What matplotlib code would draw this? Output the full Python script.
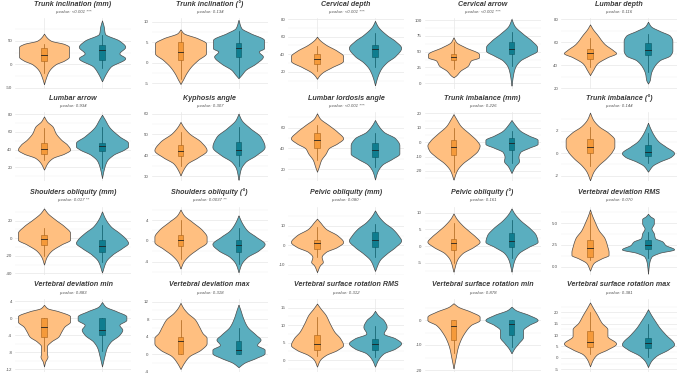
import matplotlib
matplotlib.use("Agg")
import matplotlib.pyplot as plt
import numpy as np

plt.rcParams["font.family"] = ["Liberation Sans", "DejaVu Sans"]

# Panel titles and p-values
titles = [
    "Trunk inclination (mm)", "Trunk inclination (°)", "Cervical depth", "Cervical arrow", "Lumbar depth",
    "Lumbar arrow", "Kyphosis angle", "Lumbar lordosis angle", "Trunk imbalance (mm)", "Trunk imbalance (°)",
    "Shoulders obliquity (mm)", "Shoulders obliquity (°)", "Pelvic obliquity (mm)", "Pelvic obliquity (°)", "Vertebral deviation RMS",
    "Vertebral deviation min", "Vertebral deviation max", "Vertebral surface rotation RMS", "Vertebral surface rotation min", "Vertebral surface rotation max",
]
pvalues = [
    "p-value: <0.001 ***", "p-value: 0.134", "p-value: <0.001 ***", "p-value: <0.001 ***", "p-value: 0.116",
    "p-value: 0.934", "p-value: 0.307", "p-value: <0.001 ***", "p-value: 0.226", "p-value: 0.144",
    "p-value: 0.017 **", "p-value: 0.0037 **", "p-value: 0.080 ·", "p-value: 0.161", "p-value: 0.070",
    "p-value: 0.883", "p-value: 0.318", "p-value: 0.312", "p-value: 0.878", "p-value: 0.381",
]
yticks = [
    [-50, 0, 50], [-5, 0, 5, 10], [20, 40, 60, 80], [0, 25, 50, 75, 100], [20, 40, 60, 80],
    [20, 40, 60, 80], [30, 40, 50, 60], [20, 40, 60], [-20, -10, 0, 10, 20], [-2, 0, 2],
    [-40, -20, 0, 20], [-4, 0, 4], [-10, 0, 10], [-5, 0, 5, 10], [0.0, 2.5, 5.0],
    [-12, -8, -4, 0, 4], [-4, 0, 4, 8, 12], [0, 5, 10, 15], [-20, -10, 0], [-5, 0, 5, 10, 15, 20],
]
ylims = [
    (-53, 97.5), (-6.5, 10.8), (0, 81), (-9.5, 102.7), (19, 81),
    (4.5, 82.6), (27.6, 60.8), (8.4, 75.2), (-27, 21), (-2.47, 3.66),
    (-41.9, 36.2), (-6.55, 6.6), (-15.1, 19.8), (-8.7, 11.9), (-0.96, 6.94),
    (-12.6, 4.47), (-4.1, 12.6), (-3.44, 17.5), (-20.8, 8.4), (-6.2, 25.8),
]

# Violin outlines: (value, half-width) knots
group1_shape = [
    [(65, 0), (58, 0.04), (50, 0.12), (43, 0.35), (37, 0.43), (16, 0.43), (8, 0.35), (0, 0.2), (-15, 0.08), (-30, 0.03), (-42, 0)],
    [(8.1, 0), (7.2, 0.05), (5.9, 0.3), (4.7, 0.44), (2.3, 0.44), (0.65, 0.3), (-1, 0.18), (-2.6, 0.1), (-4.2, 0.04), (-5.2, 0)],
    [(60, 0), (56.7, 0.04), (51, 0.15), (43.7, 0.35), (38, 0.45), (32.6, 0.45), (25, 0.25), (19.5, 0.1), (15.8, 0.04), (12, 0)],
    [(72.6, 0), (64.7, 0.05), (57, 0.2), (46, 0.44), (41, 0.44), (36, 0.3), (28, 0.25), (20, 0.12), (12, 0.04), (9.5, 0)],
    [(75.7, 0), (71.4, 0.05), (67, 0.12), (58.6, 0.25), (53, 0.4), (50.6, 0.45), (47, 0.3), (41.4, 0.12), (35.7, 0.05), (31.4, 0)],
    [(77.6, 0), (72, 0.05), (66, 0.15), (58.8, 0.2), (51, 0.3), (45.6, 0.4), (40, 0.45), (35.5, 0.35), (30.6, 0.15), (25, 0.06), (17.4, 0)],
    [(56, 0), (53.7, 0.05), (50.5, 0.15), (46.5, 0.35), (42.4, 0.45), (39, 0.3), (36, 0.12), (32.7, 0.04), (30.3, 0)],
    [(73.9, 0), (69, 0.05), (62.6, 0.2), (56, 0.35), (49.7, 0.45), (44.8, 0.35), (40, 0.2), (35, 0.15), (28.7, 0.07), (22, 0.03), (17.4, 0)],
    [(19.5, 0), (16, 0.05), (11.5, 0.12), (5.7, 0.28), (1.1, 0.4), (-2.3, 0.45), (-5.7, 0.42), (-10.3, 0.3), (-15, 0.15), (-19.5, 0.06), (-26, 0)],
    [(3.6, 0), (3, 0.05), (2.4, 0.15), (1.8, 0.32), (1.2, 0.42), (0.6, 0.42), (0.15, 0.38), (-0.45, 0.28), (-1.05, 0.15), (-1.64, 0.06), (-2.4, 0)],
    [(34, 0), (28.7, 0.06), (21, 0.2), (13.6, 0.35), (6, 0.45), (-1.5, 0.45), (-7, 0.3), (-14.7, 0.12), (-22, 0.04), (-30, 0)],
    [(6, 0), (4.9, 0.06), (3.65, 0.2), (2, 0.38), (0.8, 0.45), (-0.2, 0.45), (-1.5, 0.3), (-2.75, 0.15), (-4, 0.05), (-5.3, 0)],
    [(13.6, 0), (11.9, 0.05), (8.5, 0.15), (5.1, 0.35), (1.7, 0.45), (-0.8, 0.35), (-3.4, 0.15), (-5.9, 0.08), (-8.5, 0.1), (-10.2, 0.05), (-13.6, 0)],
    [(9.8, 0), (8.3, 0.05), (6.3, 0.15), (4.3, 0.28), (2.8, 0.38), (1.3, 0.45), (-0.2, 0.35), (-2.2, 0.15), (-4.2, 0.06), (-7.7, 0)],
    [(6.6, 0), (6, 0.03), (5.2, 0.08), (4.2, 0.15), (3.3, 0.25), (2.3, 0.3), (1.7, 0.32), (1.35, 0.32), (0.96, 0.2), (0.4, 0.06), (-0.46, 0)],
    [(3.1, 0), (2.3, 0.06), (1.6, 0.25), (0.4, 0.45), (-0.8, 0.45), (-2, 0.35), (-3.1, 0.3), (-4.3, 0.25), (-5.5, 0.12), (-6.6, 0.05), (-8.2, 0.05), (-9, 0.06), (-10.2, 0.02), (-11.3, 0)],
    [(11.7, 0), (10.5, 0.05), (9.4, 0.12), (7.9, 0.25), (6.3, 0.32), (4.8, 0.38), (3.7, 0.45), (2.5, 0.45), (1, 0.35), (-0.5, 0.15), (-2, 0.06), (-3.4, 0)],
    [(16.2, 0), (14.8, 0.06), (12.9, 0.15), (10.5, 0.22), (8.1, 0.3), (6.2, 0.4), (4.3, 0.45), (2.9, 0.35), (1.4, 0.15), (0, 0.05), (-1.9, 0)],
    [(6.7, 0), (5.3, 0.08), (3.3, 0.3), (1.3, 0.45), (0, 0.45), (-2, 0.3), (-4.7, 0.2), (-8, 0.12), (-11.3, 0.07), (-14.7, 0.04), (-19.3, 0)],
    [(24.3, 0), (22, 0.05), (19, 0.12), (15.4, 0.2), (12.5, 0.3), (9.6, 0.3), (6.3, 0.45), (3.7, 0.3), (1.5, 0.12), (-0.7, 0.05), (-3.7, 0)],
]
group2_shape = [
    [(93, 0), (80, 0.03), (65, 0.05), (50, 0.3), (37, 0.4), (23, 0.3), (13, 0.4), (-5, 0.15), (-19, 0.07), (-36, 0)],
    [(10.4, 0), (8.4, 0.05), (7.2, 0.2), (5.5, 0.44), (3.5, 0.44), (2.7, 0.35), (1.5, 0.42), (-0.2, 0.3), (-1.8, 0.12), (-3, 0.05), (-3.8, 0)],
    [(78, 0), (71.6, 0.05), (62, 0.2), (55, 0.35), (47.4, 0.45), (38, 0.35), (30.7, 0.2), (23, 0.1), (14, 0.04), (4.7, 0)],
    [(101.6, 0), (91, 0.05), (78, 0.2), (67, 0.35), (57, 0.44), (51.6, 0.44), (43.7, 0.3), (36, 0.15), (25, 0.06), (15, 0.03), (-3.7, 0)],
    [(78, 0), (74, 0.05), (70, 0.2), (65.7, 0.38), (61.4, 0.42), (52.9, 0.42), (48.6, 0.38), (44.3, 0.2), (38.6, 0.1), (32.9, 0.05), (27, 0.03), (24, 0)],
    [(79.5, 0), (74, 0.05), (66, 0.12), (55, 0.3), (47.5, 0.45), (43.8, 0.45), (40, 0.38), (34.4, 0.2), (27, 0.08), (17.4, 0.03), (8, 0)],
    [(60, 0), (57, 0.05), (53, 0.2), (48.9, 0.38), (44, 0.45), (40, 0.3), (36.8, 0.12), (33.5, 0.04), (28.2, 0)],
    [(67.4, 0), (62.6, 0.05), (56, 0.15), (49.7, 0.35), (43, 0.42), (35, 0.42), (30, 0.3), (24, 0.12), (17.4, 0.04), (10, 0)],
    [(15.4, 0), (12.6, 0.05), (8, 0.15), (4.6, 0.3), (1.6, 0.45), (-1.1, 0.45), (-3.9, 0.3), (-6.9, 0.15), (-10.3, 0.12), (-13, 0.13), (-16.8, 0.06), (-21.4, 0)],
    [(2.7, 0), (2.2, 0.04), (1.6, 0.1), (1.05, 0.18), (0.6, 0.3), (0, 0.45), (-0.3, 0.4), (-0.75, 0.2), (-1.1, 0.08), (-1.64, 0)],
    [(30.6, 0), (23, 0.05), (13.6, 0.15), (6, 0.3), (-1.5, 0.42), (-5.3, 0.45), (-11, 0.35), (-18.5, 0.18), (-26, 0.07), (-39, 0)],
    [(4.9, 0), (3.65, 0.05), (2, 0.15), (0.8, 0.3), (-0.6, 0.45), (-1.8, 0.35), (-3.1, 0.15), (-4.4, 0.05), (-6, 0)],
    [(17.8, 0), (15.3, 0.05), (11.9, 0.15), (8.5, 0.3), (5.1, 0.4), (2.5, 0.45), (-0.8, 0.35), (-4.2, 0.2), (-7.6, 0.08), (-13, 0)],
    [(11.3, 0), (9.8, 0.05), (7.8, 0.15), (5.3, 0.32), (3.3, 0.42), (1.3, 0.45), (-0.2, 0.3), (-2.2, 0.12), (-4.2, 0.05), (-7.7, 0)],
    [(6.1, 0), (5.8, 0.04), (5.5, 0.1), (5, 0.1), (4.4, 0.06), (3.85, 0.1), (3.3, 0.12), (2.9, 0.25), (2.5, 0.3), (2, 0.45), (1.6, 0.2), (1.15, 0.06), (0.4, 0.02), (-0.8, 0)],
    [(3.75, 0), (2.7, 0.06), (1.6, 0.25), (0.4, 0.42), (-0.4, 0.42), (-1.6, 0.3), (-2.7, 0.35), (-3.9, 0.3), (-5.5, 0.15), (-7, 0.08), (-9, 0.04), (-11.3, 0)],
    [(11.3, 0), (10.2, 0.03), (8.2, 0.08), (6.3, 0.15), (4.4, 0.3), (3.3, 0.38), (2.1, 0.32), (1, 0.45), (0.2, 0.45), (-0.9, 0.3), (-2, 0.1), (-3, 0)],
    [(14.1, 0), (12.9, 0.05), (11.4, 0.15), (9.5, 0.2), (7.6, 0.15), (6.2, 0.35), (4.8, 0.45), (3.3, 0.35), (1.9, 0.15), (0, 0.05), (-1.9, 0)],
    [(5.3, 0), (4, 0.07), (2, 0.3), (0, 0.45), (-2, 0.3), (-4, 0.2), (-6.7, 0.2), (-9.3, 0.12), (-11.3, 0.05), (-13.3, 0)],
    [(21.3, 0), (19, 0.05), (16.2, 0.12), (13.2, 0.2), (10.3, 0.3), (5.9, 0.45), (3.7, 0.35), (1, 0.15), (-1.5, 0.05), (-4, 0)],
]
# Box stats: (whisker low, q1, median, q3, whisker high)
group1_box = [
    (-19, 6, 20, 34, 44), (-4, 0.65, 2.5, 5.1, 7.5), (21, 28.8, 34.4, 40, 49), (22.6, 37, 42, 47, 64.7), (38.6, 45.7, 50.6, 54, 64),
    (28, 35.5, 40.8, 48, 64.4), (35, 39.7, 42, 44.8, 51.3), (28.7, 40, 48, 54.5, 62.6), (-20.7, -9.2, -3.4, 1.6, 9.9), (-1.1, 0, 0.54, 1.25, 2.3),
    (-20, -7.2, -0.8, 4.2, 11.7), (-3.4, -1, 0.13, 1.1, 4), (-5.9, -1.7, 1.4, 2.9, 9.3), (-5.2, -1.2, 0.8, 2, 6.8), (0.8, 1.1, 2.1, 3.1, 6.2),
    (-7.8, -4.3, -2, 0, 0), (0, 0, 3.1, 4, 7.9), (1.1, 3, 4.6, 7.3, 12.4), (-13.3, -8, -2.4, 0, 0), (1.5, 4.9, 6.9, 11.8, 19.9),
]
group2_box = [
    (-8, 10, 30, 41, 62), (-3.4, 1.3, 3.5, 4.7, 7.6), (25, 37, 45.6, 51, 64), (28, 46, 54, 64.7, 80.5), (34, 49, 53.4, 59.4, 67),
    (19, 38, 43.8, 48, 66), (35, 40, 42.7, 46.5, 53.7), (22, 32, 38.4, 45.5, 54.5), (-14.5, -5.3, -0.7, 2.8, 8), (-0.9, -0.24, 0.15, 0.75, 1.8),
    (-27, -15.8, -9, -2.3, 15.5), (-4.4, -2.1, -0.8, 0.13, 2.4), (-5.9, -0.8, 2.5, 6.8, 11), (-3.7, -0.2, 1.5, 3.8, 7.8), (1, 2, 2.5, 3.1, 4),
    (-7.8, -3.9, -2.7, 0, 0), (0, 0, 1, 3, 6), (0.8, 3, 4.6, 5.9, 9.7), (-10.7, -6, -1.6, 0, 0), (0.4, 4.4, 6.3, 8.8, 14.7),
]

violin_fill = ["#FFBF80", "#5AAEBF"]
box_fill = ["#F59A3A", "#0F7D8F"]
box_edge = ["#A8621A", "#0A5865"]

W, H = 685, 375
col_left = [15, 151.5, 288, 424.5, 561]
row_top = [18.3, 112, 206.5, 299]
row_bottom = [89.3, 181, 275, 372]
ax_w = 116


def pchip(x, y, xs):
    # monotone cubic through the knots, so the outline has rounded shoulders
    h = np.diff(x)
    d = np.diff(y) / h
    m = np.zeros_like(y)
    for k in range(1, len(x) - 1):
        if d[k - 1] * d[k] > 0:
            w1 = 2 * h[k] + h[k - 1]
            w2 = h[k] + 2 * h[k - 1]
            m[k] = (w1 + w2) / (w1 / d[k - 1] + w2 / d[k])
    m[0], m[-1] = d[0], d[-1]
    idx = np.clip(np.searchsorted(x, xs) - 1, 0, len(h) - 1)
    t = (xs - x[idx]) / h[idx]
    h00 = 2 * t**3 - 3 * t**2 + 1
    h10 = t**3 - 2 * t**2 + t
    h01 = -2 * t**3 + 3 * t**2
    h11 = t**3 - t**2
    return h00 * y[idx] + h10 * h[idx] * m[idx] + h01 * y[idx + 1] + h11 * h[idx] * m[idx + 1]


def draw_violin(ax, pos, knots, color):
    knots = sorted(knots)
    ys = np.array([k[0] for k in knots], dtype=float)
    ws = np.array([k[1] for k in knots], dtype=float)
    grid = np.linspace(ys[0], ys[-1], 400)
    hw = np.clip(pchip(ys, ws, grid), 0, None)
    ax.fill_betweenx(grid, pos - hw, pos + hw, facecolor=color, edgecolor="#4a4a4a",
                     linewidth=0.5, zorder=2)


def draw_box(ax, pos, stats, face, edge):
    lo, q1, med, q3, hi = stats
    ax.plot([pos, pos], [lo, hi], color=edge, linewidth=0.5, zorder=3)
    ax.add_patch(plt.Rectangle((pos - 0.045, q1), 0.09, q3 - q1, facecolor=face,
                               edgecolor=edge, linewidth=0.4, zorder=4))
    ax.plot([pos - 0.045, pos + 0.045], [med, med], color="#222222", linewidth=0.6, zorder=5)


fig = plt.figure(figsize=(W / 100, H / 100), dpi=100)
fig.patch.set_facecolor("white")

for i in range(20):
    r, c = divmod(i, 5)
    left = col_left[c] / W
    bottom = 1 - row_bottom[r] / H
    height = (row_bottom[r] - row_top[r]) / H
    ax = fig.add_axes([left, bottom, ax_w / W, height])
    ax.set_xlim(0.5, 2.5)
    ax.set_ylim(*ylims[i])

    ticks = yticks[i]
    step = ticks[1] - ticks[0]
    minor = [t + step / 2 for t in [ticks[0] - step] + ticks]
    minor = [m for m in minor if ylims[i][0] <= m <= ylims[i][1]]
    for m in minor:
        ax.axhline(m, color="#F2F2F2", linewidth=0.35, zorder=0)
    for t in ticks:
        ax.axhline(t, color="#E8E8E8", linewidth=0.5, zorder=0)
    for xg in (1, 2):
        ax.axvline(xg, color="#E8E8E8", linewidth=0.5, zorder=0)

    draw_violin(ax, 1, group1_shape[i], violin_fill[0])
    draw_violin(ax, 2, group2_shape[i], violin_fill[1])
    draw_box(ax, 1, group1_box[i], box_fill[0], box_edge[0])
    draw_box(ax, 2, group2_box[i], box_fill[1], box_edge[1])

    ax.set_yticks(ticks)
    ax.set_yticklabels([f"{t:.1f}" if isinstance(t, float) else str(t) for t in ticks])
    ax.set_xticks([])
    ax.tick_params(axis="y", length=0, labelsize=3.2, labelcolor="#555555", pad=2)
    for s in ax.spines.values():
        s.set_visible(False)

    cx = (col_left[c] + ax_w / 2) / W
    fig.text(cx, 1 - (row_top[r] - 14) / H, titles[i], ha="center", va="center",
             fontsize=5.1, fontweight="bold", fontstyle="italic", color="#3a3a3a")
    fig.text(cx, 1 - (row_top[r] - 6.3) / H, pvalues[i], ha="center", va="center",
             fontsize=3.2, fontstyle="italic", color="#555555")

fig.savefig("out.png", dpi=100, facecolor="white")
